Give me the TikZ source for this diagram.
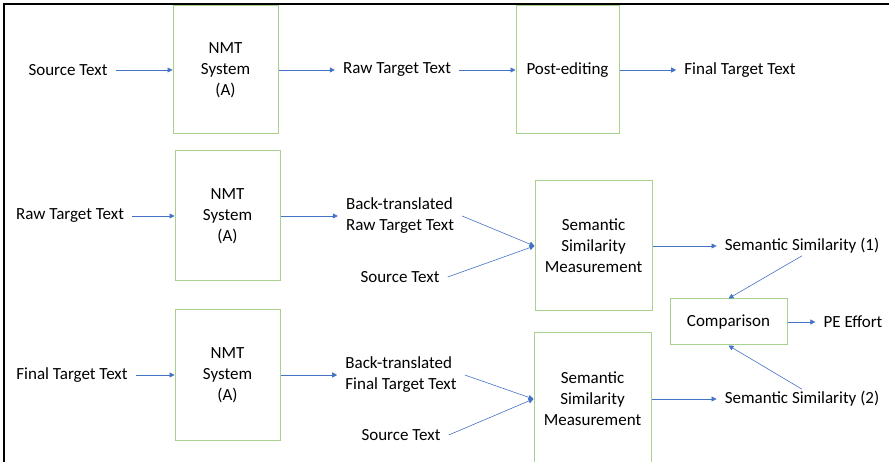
\documentclass[tikz,border=0pt]{standalone}
\usepackage{fontspec}
\setmainfont{Carlito}
\usetikzlibrary{arrows.meta, positioning}
\definecolor{boxgreen}{RGB}{169,209,142}
\definecolor{arrowblue}{RGB}{68,114,196}

\begin{document}
\begin{tikzpicture}[
  x=1pt, y=-1pt,
  every node/.style={font=\fontsize{17}{21}\selectfont},
  txt/.style={inner xsep=8pt, inner ysep=2pt, align=center},
  block/.style={rectangle, draw=boxgreen, line width=1pt, align=center, minimum width=105pt, minimum height=130pt},
  arrow/.style={-{Triangle[length=5pt, width=5pt]}, draw=arrowblue, line width=0.6pt}
]
\useasboundingbox (0,0) rectangle (889,462);
\clip (0,0) rectangle (889,462);

% Post-editing pipeline
\node[txt] (src1) at (68,70) {Source Text};
\node[block, minimum height=128pt] (nmt1) at (225.5,70) {NMT\\System\\(A)};
\node[txt] (raw1) at (397,70) {Raw Target Text};
\node[block, minimum width=103pt, minimum height=128pt] (pe) at (567.5,70) {Post-editing};
\node[txt] (fin1) at (740,70) {Final Target Text};

\draw[arrow] (src1) -- (nmt1);
\draw[arrow] (nmt1) -- (raw1);
\draw[arrow] (raw1) -- (pe);
\draw[arrow] (pe) -- (fin1);

% Back-translation of raw target text
\node[txt] (raw2) at (70,216) {Raw Target Text};
\node[block] (nmt2) at (227.5,216) {NMT\\System\\(A)};
\node[txt, align=left] (bt1) at (400,216) {Back-translated\\Raw Target Text};
\node[txt] (src2) at (400,277) {Source Text};
\node[block, minimum width=117pt] (sem1) at (593.5,246) {Semantic\\Similarity\\Measurement};
\node[txt] (sim1) at (802,246) {Semantic Similarity (1)};

\draw[arrow] (raw2) -- (nmt2);
\draw[arrow] (nmt2) -- (bt1);
\draw[arrow] (bt1.east) -- (sem1.west);
\draw[arrow] (src2.east) -- (sem1.west);
\draw[arrow] (sem1) -- (sim1);

% Comparison
\node[block, minimum width=117pt, minimum height=46pt] (cmp) at (728.5,322) {Comparison};
\node[txt] (eff) at (853,322) {PE Effort};
\draw[arrow] (cmp) -- (eff);

% Back-translation of final target text
\node[txt] (fin2) at (72,375) {Final Target Text};
\node[block] (nmt3) at (227.5,375) {NMT\\System\\(A)};
\node[txt, align=left] (bt2) at (401,375) {Back-translated\\Final Target Text};
\node[txt] (src3) at (401,435) {Source Text};
\node[block, minimum width=117pt, minimum height=132pt] (sem2) at (592.5,399) {Semantic\\Similarity\\Measurement};
\node[txt] (sim2) at (802,399) {Semantic Similarity (2)};

\draw[arrow] (fin2) -- (nmt3);
\draw[arrow] (nmt3) -- (bt2);
\draw[arrow] (bt2.east) -- (sem2.west);
\draw[arrow] (src3.east) -- (sem2.west);
\draw[arrow] (sem2) -- (sim2);

\draw[arrow] (sim1.south) -- (cmp.north);
\draw[arrow] (sim2.north) -- (cmp.south);

% Frame
\draw[line width=1.5pt] (4,462) -- (4,4) -- (889,4);
\end{tikzpicture}
\end{document}
